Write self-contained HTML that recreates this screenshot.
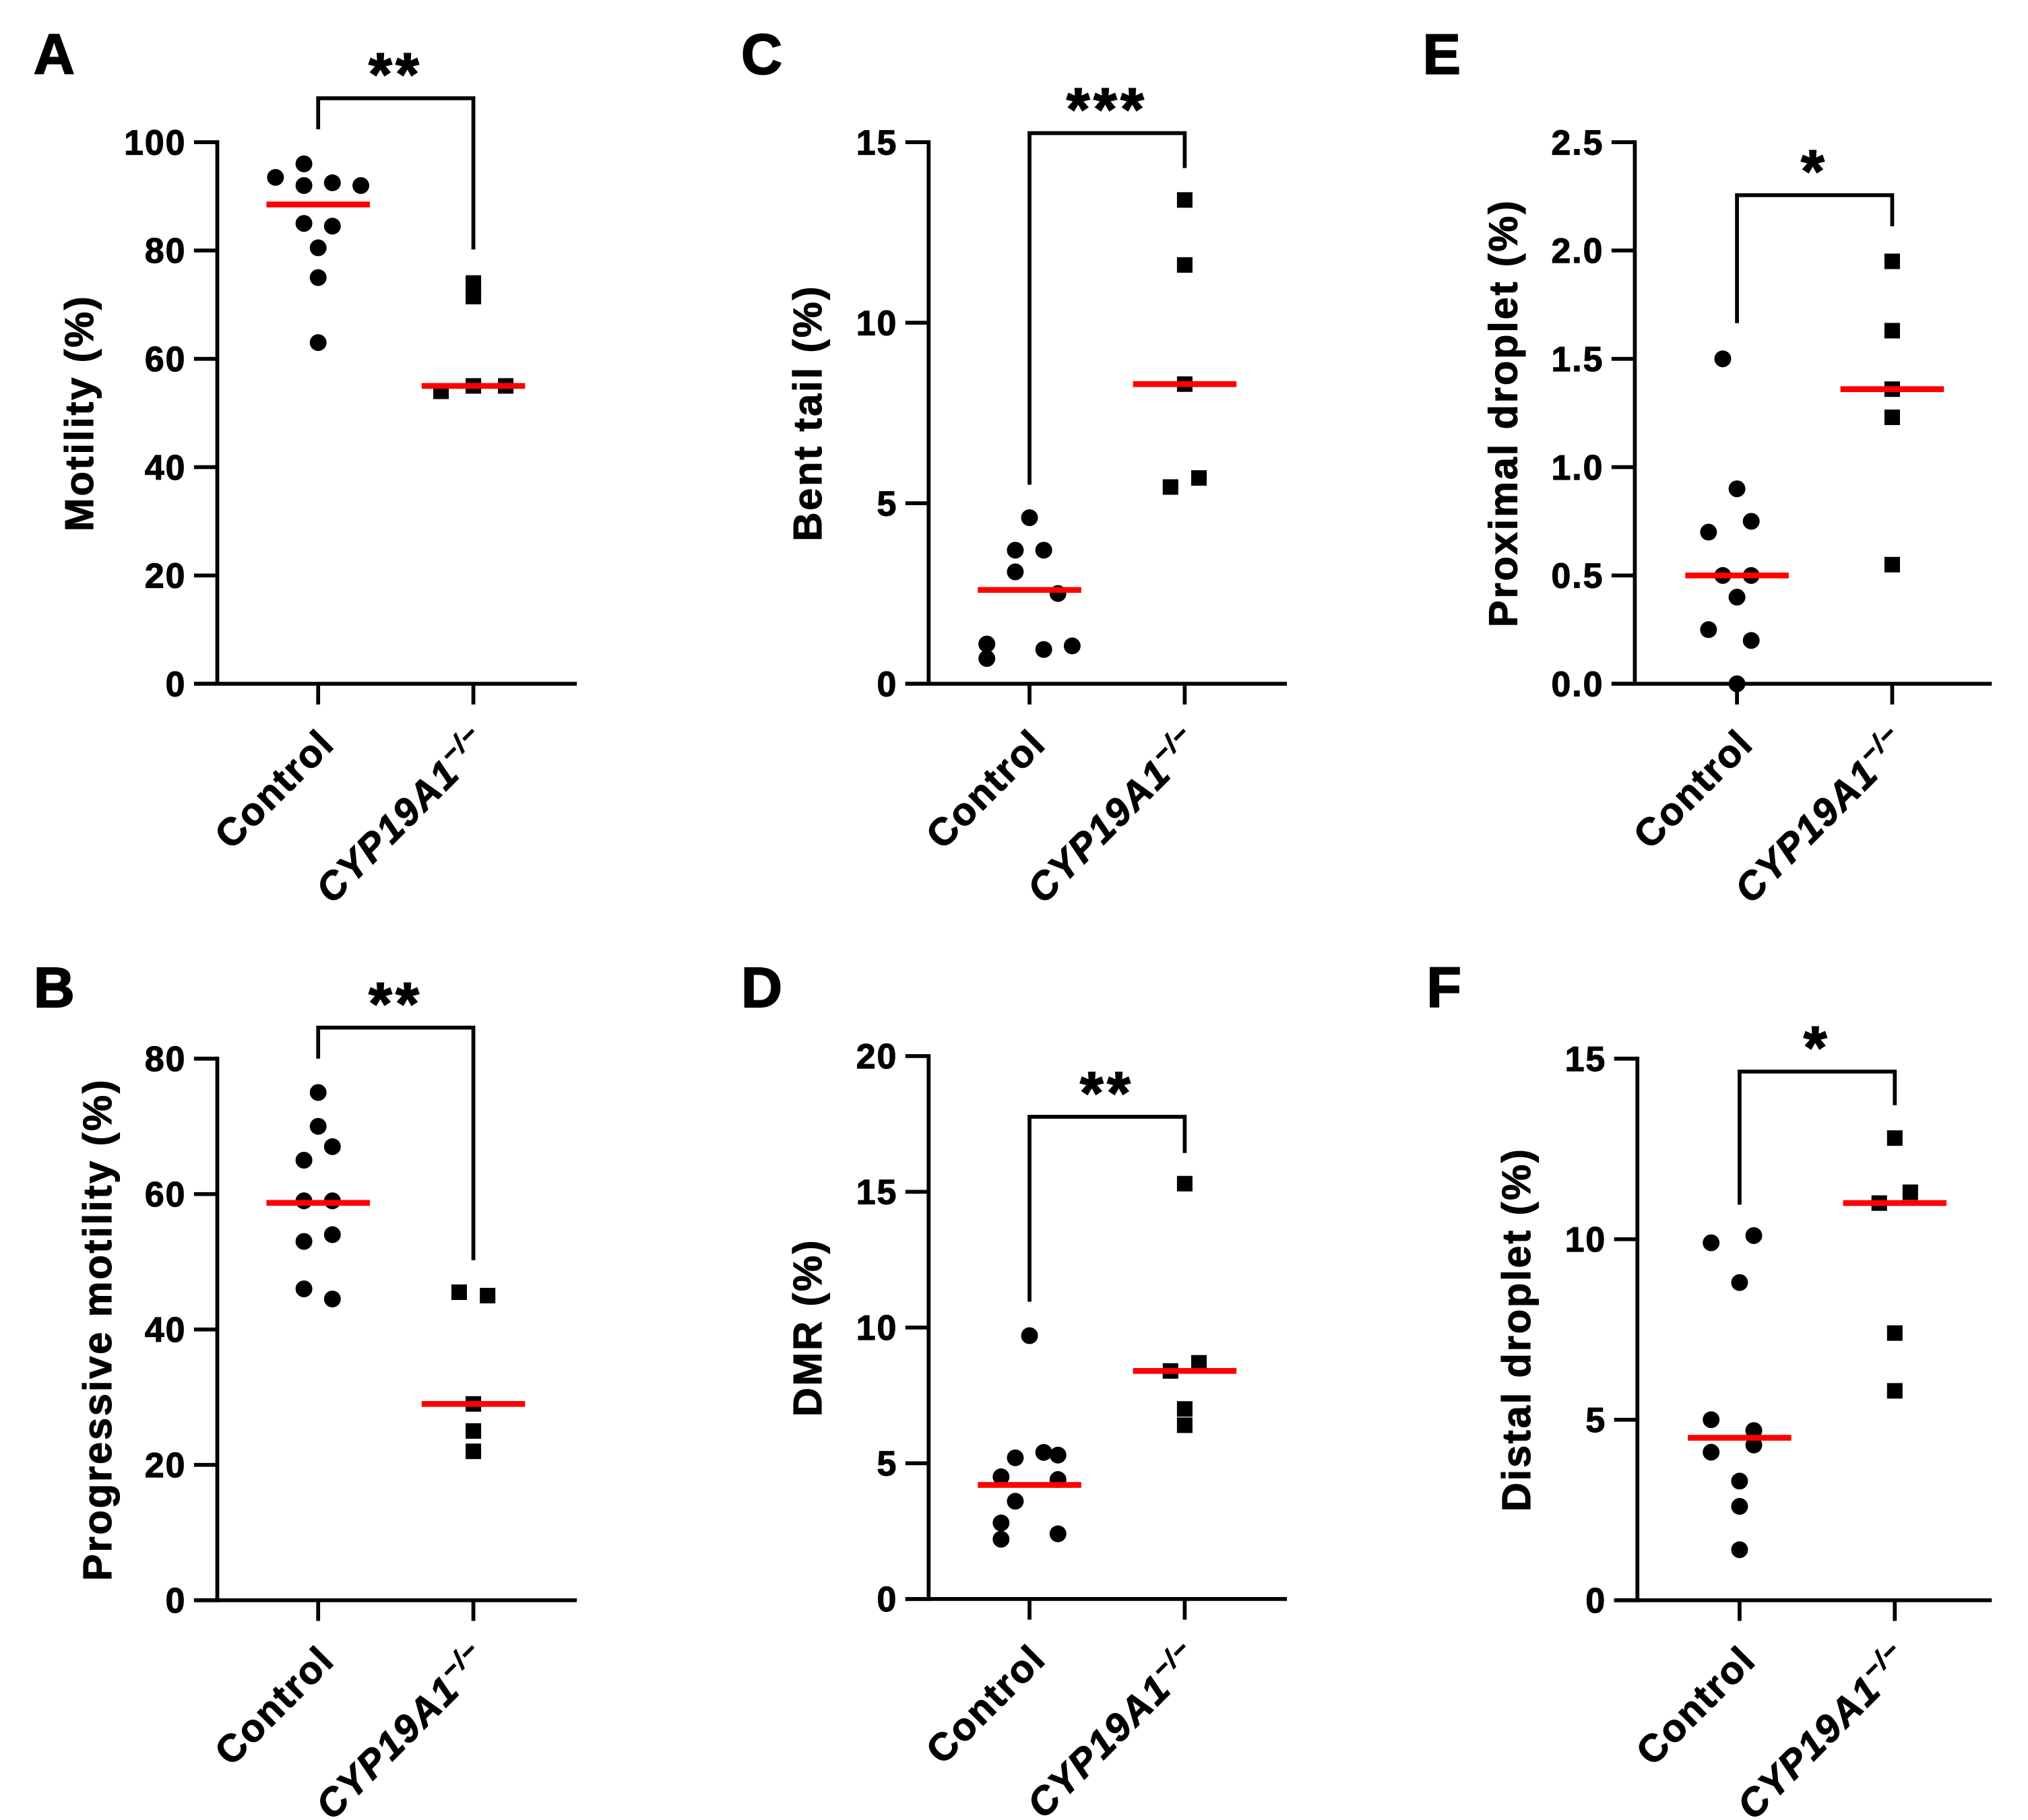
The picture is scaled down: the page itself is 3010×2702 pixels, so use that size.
<!DOCTYPE html>
<html><head><meta charset="utf-8"><style>
html,body{margin:0;padding:0;background:#fff;}
svg{display:block;font-family:"Liberation Sans",Arial,sans-serif;font-weight:bold;}
</style></head><body>
<svg id="fig" width="3010" height="2702" viewBox="0 0 1568 1408" preserveAspectRatio="none" xmlns="http://www.w3.org/2000/svg"></svg>
<script>
// ---- data ----
const categories = ["Control", "CYP19A1"];
const aControl = [93.5, 96, 92, 92.5, 92, 85, 84.5, 80.5, 75, 63];
const aKO = [74, 71.5, 54, 55, 55];
const aMedians = [88.5, 55];
const aTicks = [0, 20, 40, 60, 80, 100];
const bControl = [75, 70, 67, 65, 59, 59, 53, 54, 46, 44.5];
const bKO = [45.5, 45, 29, 25, 22];
const bMedians = [58.7, 29];
const bTicks = [0, 20, 40, 60, 80];
const cControl = [4.6, 3.7, 3.7, 3.1, 2.5, 1.1, 0.7, 0.95, 1.05, 1.1];
const cKO = [13.4, 11.6, 8.3, 5.7, 5.45];
const cMedians = [2.6, 8.3];
const cTicks = [0, 5, 10, 15];
const dControl = [9.7, 5.4, 5.2, 5.3, 4.5, 4.4, 3.6, 2.8, 2.2, 2.4];
const dKO = [15.3, 8.7, 8.4, 7.0, 6.4];
const dMedians = [4.2, 8.4];
const dTicks = [0, 5, 10, 15, 20];
const eControl = [1.5, 0.9, 0.7, 0.75, 0.5, 0.5, 0.4, 0.25, 0.2, 0.0];
const eKO = [1.95, 1.63, 1.36, 1.23, 0.55];
const eMedians = [0.5, 1.36];
const eTicks = [0, 0.5, 1.0, 1.5, 2.0, 2.5];
const fControl = [9.9, 10.1, 8.8, 5.0, 4.7, 4.1, 3.3, 2.6, 1.4, 4.3];
const fKO = [12.8, 11.3, 11.0, 7.4, 5.8];
const fMedians = [4.5, 11.0];
const fTicks = [0, 5, 10, 15];

// jitter offsets (layout, not data)
const ctlOff = {a:[-33,-11,-11,11,33,-11,11,0,0,0], b:[0,0,11,-11,-11,11,-11,11,-11,11], c:[0,-11,11,-11,22,-33,-33,11,33,-33], d:[0,11,-11,22,-22,22,-11,-22,-22,22], e:[-11,0,-22,11,-11,11,0,-22,11,0], f:[-22,11,0,-22,11,-22,0,0,0,11]};
const koOff = {a:[0,0,-25,0,25], b:[-11,11,0,0,0], c:[0,0,0,11,-11], d:[0,11,-11,0,0], e:[0,0,0,0,0], f:[0,12,-12,0,0]};

const svg = document.getElementById('fig');
const NS = 'http://www.w3.org/2000/svg';
function mk(tag, attrs, parent){const e=document.createElementNS(NS,tag);for(const k in attrs)e.setAttribute(k,attrs[k]);(parent||svg).appendChild(e);return e;}

const panels = [
 {id:'a', letter:'A', lx:26, ly:57, ax:168, top:110, bot:529, xr:446, x1:246, x2:366, ticks:aTicks, ctl:aControl, ko:aKO, med:aMedians, title:'Motility (%)', tx:72, stars:'**', brTop:76, brL:100, brR:193, dec:0},
 {id:'b', letter:'B', lx:26, ly:779, ax:168, top:819, bot:1238, xr:446, x1:246, x2:366, ticks:bTicks, ctl:bControl, ko:bKO, med:bMedians, title:'Progressive motility (%)', tx:86, stars:'**', brTop:795, brL:819, brR:975, dec:0},
 {id:'c', letter:'C', lx:573, ly:57, ax:718, top:110, bot:529, xr:995, x1:796, x2:916, ticks:cTicks, ctl:cControl, ko:cKO, med:cMedians, title:'Bent tail (%)', tx:635, stars:'***', brTop:103, brL:375, brR:130, dec:0},
 {id:'d', letter:'D', lx:573, ly:779, ax:718, top:817, bot:1237, xr:995, x1:796, x2:916, ticks:dTicks, ctl:dControl, ko:dKO, med:dMedians, title:'DMR (%)', tx:635, stars:'**', brTop:864, brL:1007, brR:892, dec:0},
 {id:'e', letter:'E', lx:1100, ly:57, ax:1264, top:110, bot:529, xr:1540, x1:1343, x2:1463, ticks:eTicks, ctl:eControl, ko:eKO, med:eMedians, title:'Proximal droplet (%)', tx:1173, stars:'*', brTop:151, brL:250, brR:175, dec:1},
 {id:'f', letter:'F', lx:1103, ly:779, ax:1266, top:819, bot:1238, xr:1540, x1:1345, x2:1465, ticks:fTicks, ctl:fControl, ko:fKO, med:fMedians, title:'Distal droplet (%)', tx:1183, stars:'*', brTop:829, brL:932, brR:855, dec:0}
];

panels.forEach(p=>{
  const g = mk('g',{});
  
  
  const maxV = p.ticks[p.ticks.length-1];
  const y = v => p.bot - (v/maxV)*(p.bot-p.top);
  const L = mk('text',{x:p.lx,y:p.ly,'font-size':44,fill:'#000',stroke:'#000','stroke-width':1},g); L.textContent=p.letter;
  
  
  const ya = mk('line',{x1:p.ax,y1:p.top-1.5,x2:p.ax,y2:p.bot+1.5,stroke:'#000','stroke-width':3},g);
  
  
  const xa = mk('line',{x1:p.ax-18,y1:p.bot,x2:p.xr,y2:p.bot,stroke:'#000','stroke-width':3},g);
  
  
  p.ticks.forEach(t=>{
    mk('line',{x1:p.ax-18,y1:y(t),x2:p.ax,y2:y(t),stroke:'#000','stroke-width':3},g);
    const tl = mk('text',{x:p.ax-24,y:y(t)+9.5,'font-size':27,'text-anchor':'end','letter-spacing':1,fill:'#000',stroke:'#000','stroke-width':0.6},g);
    tl.textContent = p.dec? t.toFixed(1): String(t);
    
    
  });
  const cy=(p.top+p.bot)/2;
  const yt = mk('text',{x:p.tx,y:cy,'font-size':31,'text-anchor':'middle','letter-spacing':1.5,transform:`rotate(-90 ${p.tx} ${cy})`,fill:'#000',stroke:'#000','stroke-width':0.6},g);
  yt.textContent=p.title;
  
  
  [p.x1,p.x2].forEach((cx,i)=>{
    mk('line',{x1:cx,y1:p.bot,x2:cx,y2:p.bot+16,stroke:'#000','stroke-width':3},g);
    const t = mk('text',{'font-size':30,'text-anchor':'end','letter-spacing':1.2,fill:'#000',stroke:'#000','stroke-width':0.6,transform:`translate(${cx+14} ${p.bot+48}) rotate(-45)`},g);
    
    
    if(i===0){t.textContent=categories[0];}
    else{
      const a=mk('tspan',{'font-style':'italic'},t); a.textContent=categories[1];
      const b=mk('tspan',{'font-size':20,dy:-12,'font-style':'italic'},t); b.textContent='\u2212/\u2212';
    }
  });
  p.ctl.forEach((v,i)=>{
    const c=mk('circle',{cx:p.x1+ctlOff[p.id][i],cy:y(v),r:6.5,fill:'#000'},g);
    
    
  });
  p.ko.forEach((v,i)=>{
    const s=12;
    const r=mk('rect',{x:p.x2+koOff[p.id][i]-s/2,y:y(v)-s/2,width:s,height:s,fill:'#000'},g);
    
    
  });
  [p.x1,p.x2].forEach((cx,i)=>{
    const m=mk('line',{x1:cx-40,x2:cx+40,y1:y(p.med[i]),y2:y(p.med[i]),stroke:'#ff0000','stroke-width':4.5},g);
    
    
  });
  const br=mk('polyline',{points:`${p.x1},${p.brL} ${p.x1},${p.brTop} ${p.x2},${p.brTop} ${p.x2},${p.brR}`,fill:'none',stroke:'#000','stroke-width':3},g);
  
  
  const st=mk('text',{x:(p.x1+p.x2)/2,y:p.brTop-3,'font-size':46,'text-anchor':'middle','letter-spacing':3,fill:'#000',stroke:'#000','stroke-width':1},g);
  st.textContent=p.stars;
  
  
});
</script>
</body></html>
